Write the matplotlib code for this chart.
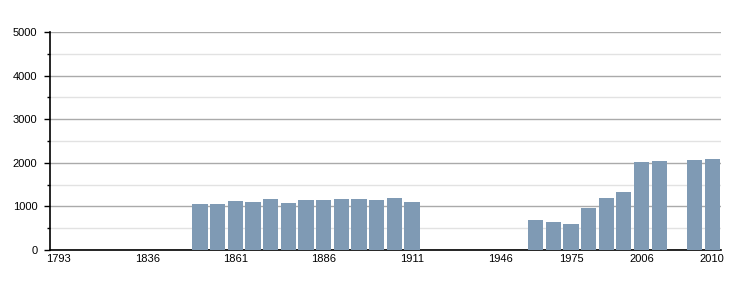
import matplotlib.pyplot as plt
from matplotlib.ticker import MultipleLocator

# census slots (empty ones keep their place on the axis)
years = ['1793', '1800', '1806', '1821', '1831', '1836', '1841', '1846', '1851', '1856',
         '1861', '1866', '1872', '1876', '1881', '1886', '1891', '1896', '1901', '1906',
         '1911', '1921', '1926', '1931', '1936', '1946', '1954', '1962', '1968', '1975',
         '1982', '1990', '1999', '2006', '2007', '2008', '2009', '2010']
population = [None, None, None, None, None, None, None, None, 1055, 1055,
              1124, 1100, 1170, 1078, 1147, 1147, 1170, 1170, 1147, 1193,
              1100, None, None, None, None, None, None, 688, 642, 596,
              963, 1193, 1330, 2018, 2041, None, 2064, 2087]
shown_labels = ['1793', '1836', '1861', '1886', '1911', '1946', '1975', '2006', '2010']

plt.rcParams['font.family'] = ['Liberation Sans', 'DejaVu Sans']

fig = plt.figure(figsize=(7.5, 3), dpi=100)
ax = fig.add_axes([50 / 750, 50 / 300, 671 / 750, 218 / 300])

xs = [i for i, v in enumerate(population) if v is not None]
vals = [v for v in population if v is not None]
ax.bar(xs, vals, width=0.86, color='#7f9ab4', zorder=3)

ax.set_xlim(-0.5, len(years) - 0.5)
ax.set_ylim(0, 5000)
ax.yaxis.set_major_locator(MultipleLocator(1000))
ax.yaxis.set_minor_locator(MultipleLocator(500))
ax.grid(which='major', axis='y', color='#aaaaaa', linewidth=1, zorder=1)
ax.grid(which='minor', axis='y', color='#e2e2e2', linewidth=1, zorder=1)

tick_pos = [years.index(y) for y in shown_labels]
ax.set_xticks(tick_pos)
ax.set_xticklabels(shown_labels)

for side in ['top', 'right']:
    ax.spines[side].set_visible(False)
ax.spines['left'].set_linewidth(1.2)
ax.spines['bottom'].set_linewidth(1.2)
ax.tick_params(axis='y', which='major', length=4, width=1, labelsize=8, pad=5)
ax.tick_params(axis='y', which='minor', length=2, width=1)
ax.tick_params(axis='x', length=0, labelsize=8, pad=3)

fig.savefig('out.png', dpi=100)
